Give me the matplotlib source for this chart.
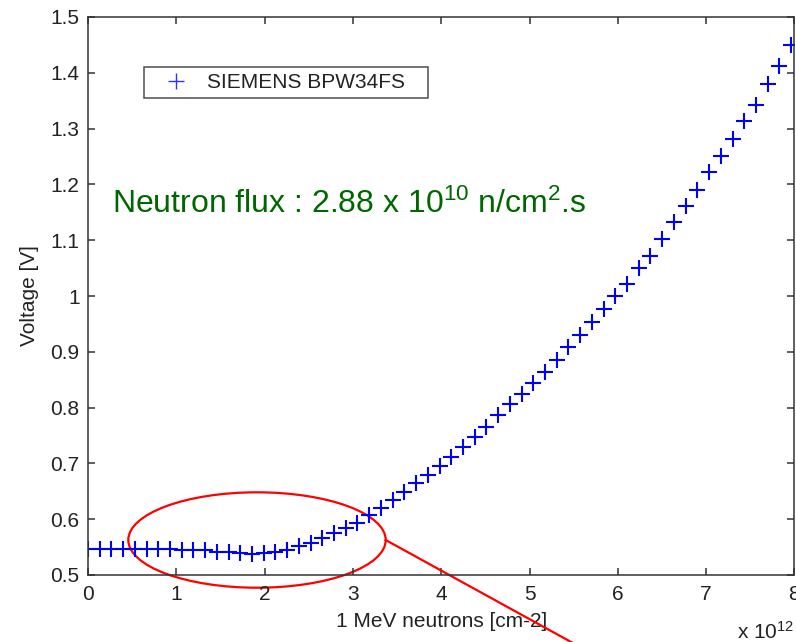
"""Photodiode forward voltage versus 1 MeV neutron fluence (SIEMENS BPW34FS)."""

import matplotlib
matplotlib.use("Agg")
import matplotlib.pyplot as plt
from matplotlib.lines import Line2D
from matplotlib.patches import Ellipse

# fluence in units of 1e12 n/cm2
fluence = [
    0.000, 0.133, 0.265, 0.398, 0.531, 0.664, 0.796, 0.929, 1.062, 1.194,
    1.327, 1.460, 1.592, 1.725, 1.858, 1.991, 2.123, 2.256, 2.389, 2.521,
    2.654, 2.787, 2.919, 3.052, 3.185, 3.318, 3.450, 3.583, 3.716, 3.848,
    3.981, 4.114, 4.246, 4.379, 4.512, 4.645, 4.777, 4.910, 5.043, 5.175,
    5.308, 5.441, 5.573, 5.706, 5.839, 5.972, 6.104, 6.237, 6.370, 6.502,
    6.635, 6.768, 6.900, 7.033, 7.166, 7.299, 7.431, 7.564, 7.697, 7.829,
    7.962,
]
voltage = [
    0.547, 0.547, 0.547, 0.547, 0.547, 0.547, 0.547, 0.547, 0.545, 0.545,
    0.545, 0.542, 0.542, 0.539, 0.538, 0.539, 0.542, 0.545, 0.552, 0.558,
    0.566, 0.575, 0.584, 0.594, 0.607, 0.620, 0.634, 0.649, 0.665, 0.680,
    0.695, 0.711, 0.729, 0.748, 0.765, 0.786, 0.806, 0.825, 0.844, 0.864,
    0.885, 0.908, 0.930, 0.953, 0.976, 1.000, 1.022, 1.050, 1.072, 1.102,
    1.132, 1.162, 1.190, 1.223, 1.251, 1.281, 1.313, 1.342, 1.380, 1.413,
    1.450,
]
x_ticks = [0, 1, 2, 3, 4, 5, 6, 7, 8]
y_ticks = [0.5, 0.6, 0.7, 0.8, 0.9, 1.0, 1.1, 1.2, 1.3, 1.4, 1.5]
y_tick_labels = ["0.5", "0.6", "0.7", "0.8", "0.9", "1", "1.1", "1.2", "1.3", "1.4", "1.5"]

plt.rcParams["font.family"] = ["Liberation Sans", "DejaVu Sans"]
plt.rcParams["mathtext.fontset"] = "custom"
plt.rcParams["mathtext.rm"] = "Liberation Sans"
plt.rcParams["mathtext.it"] = "Liberation Sans"
plt.rcParams["mathtext.bf"] = "Liberation Sans"

axis_col = "#333333"
text_col = "#222222"
fig = plt.figure(figsize=(7.96, 6.42), dpi=100, facecolor="white")
ax = fig.add_axes([88 / 796, 67 / 642, 706.4 / 796, 558 / 642])

ax.plot(fluence, voltage, linestyle="none", marker="+", markersize=11,
        markeredgewidth=1.5, color="#0000ff")

ax.set_xlim(0, 8)
ax.set_ylim(0.5, 1.5)
ax.set_xticks(x_ticks)
ax.set_xticklabels([str(t) for t in x_ticks])
ax.set_yticks(y_ticks)
ax.set_yticklabels(y_tick_labels)
ax.tick_params(direction="in", top=True, right=True, length=5, width=1.1,
               color=axis_col, labelcolor=text_col, labelsize=15)
ax.tick_params(axis="x", pad=7)
ax.tick_params(axis="y", pad=6)
for sp in ax.spines.values():
    sp.set_color(axis_col)
    sp.set_linewidth(1.1)

ax.set_xlabel("1 MeV neutrons [cm-2]", fontsize=15, color=text_col)
ax.set_ylabel("Voltage [V]", fontsize=15, color=text_col)
ax.xaxis.set_label_coords(0.5, -0.066)
ax.yaxis.set_label_coords(-0.069, 0.5)

# scale factor for the fluence axis
ax.text(1.0, -0.082, "x 10$^{12}$", transform=ax.transAxes, fontsize=15,
        color=text_col, ha="right", va="top")

# legend with a lighter, thinner marker
proxy = Line2D([], [], linestyle="none", marker="+", markersize=11,
               markeredgewidth=1.0, color="#3030ff")
leg = ax.legend([proxy], ["SIEMENS BPW34FS   "], loc="upper left",
                bbox_to_anchor=(0.0797, 0.911), fontsize=15, frameon=True,
                fancybox=False, borderpad=0.3, handlelength=2.45,
                handletextpad=0.25, borderaxespad=0)
leg.get_frame().set_edgecolor(text_col)
leg.get_frame().set_linewidth(1.1)
for t in leg.get_texts():
    t.set_color(text_col)

ax.text(0.268, 1.148, "Neutron flux : 2.88 x 10$^{10}$ n/cm$^{2}$.s",
        fontsize=23, color="#006600", ha="left", va="baseline")

# highlight of the low-fluence plateau with a pointer line
ax.add_patch(Ellipse((1.914, 0.5627), 2.915, 0.171, fill=False,
                     edgecolor="#ff0000", linewidth=1.6, clip_on=False))
ax.plot([3.371, 5.7], [0.5627, 0.36], color="#ff0000", linewidth=1.6,
        clip_on=False)

fig.savefig("out.png", dpi=100, facecolor="white")
